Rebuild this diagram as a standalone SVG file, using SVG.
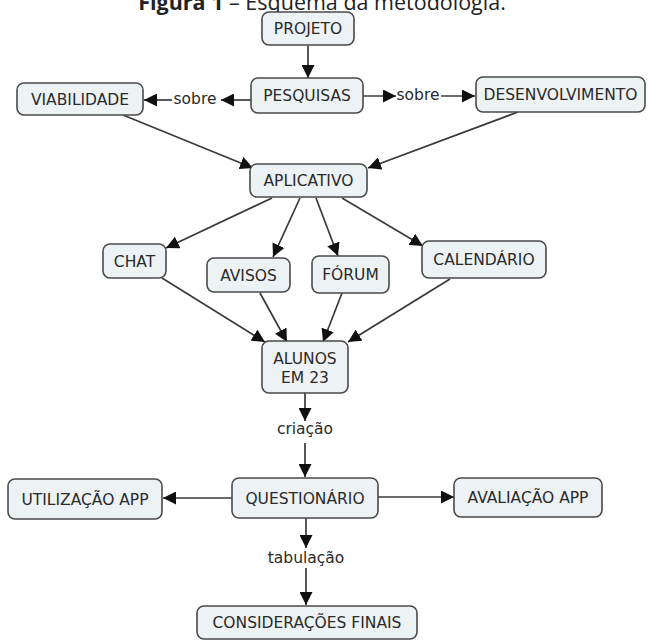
<svg xmlns="http://www.w3.org/2000/svg" width="648" height="641" viewBox="0 0 648 641">
<style>
.n rect{fill:#edf2f5;stroke:#4a4a4a;stroke-width:1.6}
.n text,.lbl{font-family:"DejaVu Sans",Verdana,sans-serif;font-size:15.5px;fill:#2a2a2a;text-anchor:middle}
.c line{stroke:#3a3a3a;stroke-width:1.7;fill:none;marker-end:url(#ah)}
.title{font-family:"Open Sans","Liberation Sans",sans-serif;font-size:21.5px;fill:#222;text-anchor:middle}
</style>
<defs>
<marker id="ah" markerUnits="userSpaceOnUse" markerWidth="14" markerHeight="13" refX="13" refY="6.5" orient="auto">
<path d="M0,0 L13,6.5 L0,13 z" fill="#111"/>
</marker>
</defs>
<rect width="648" height="641" fill="#fff"/>
<text class="title" x="322" y="10"><tspan font-weight="bold">Figura 1</tspan> – Esquema da metodologia.</text>

<g id="connectors" class="c">
<line x1="308" y1="46" x2="308" y2="78"/>
<line x1="251" y1="100" x2="221" y2="100"/>
<line x1="172" y1="100" x2="144" y2="100"/>
<line x1="363" y1="96" x2="396" y2="96"/>
<line x1="441" y1="96" x2="475" y2="96"/>
<line x1="123" y1="115" x2="253" y2="168"/>
<line x1="518" y1="112" x2="368" y2="168"/>
<line x1="272" y1="198" x2="166" y2="248"/>
<line x1="300" y1="198" x2="273" y2="257"/>
<line x1="316" y1="198" x2="338" y2="256"/>
<line x1="342" y1="198" x2="423" y2="246"/>
<line x1="162" y1="278" x2="265" y2="342"/>
<line x1="260" y1="293" x2="287" y2="342"/>
<line x1="342" y1="293" x2="323" y2="342"/>
<line x1="450" y1="279" x2="348" y2="342"/>
<line x1="305" y1="393" x2="305" y2="421"/>
<line x1="305" y1="443" x2="305" y2="477"/>
<line x1="232" y1="498" x2="163" y2="498"/>
<line x1="378" y1="497" x2="454" y2="497"/>
<line x1="306" y1="518" x2="306" y2="548"/>
<line x1="306" y1="568" x2="306" y2="605"/>
</g>
<text class="lbl" x="195" y="104">sobre</text>
<text class="lbl" x="418" y="100">sobre</text>
<text class="lbl" x="305" y="434">criação</text>
<text class="lbl" x="306" y="563">tabulação</text>

<g id="projeto" class="n"><rect x="262" y="12" width="92" height="33" rx="7"/><text x="308" y="34">PROJETO</text></g>
<g id="pesquisas" class="n"><rect x="251" y="78" width="112" height="35" rx="7"/><text x="307" y="101">PESQUISAS</text></g>
<g id="viabilidade" class="n"><rect x="17" y="83" width="126" height="32" rx="7"/><text x="80" y="104.5">VIABILIDADE</text></g>
<g id="desenvolvimento" class="n"><rect x="476" y="77" width="169" height="35" rx="7"/><text x="560.5" y="100">DESENVOLVIMENTO</text></g>
<g id="aplicativo" class="n"><rect x="250" y="164" width="117" height="33" rx="7"/><text x="308.5" y="186">APLICATIVO</text></g>
<g id="chat" class="n"><rect x="103" y="244" width="63" height="34" rx="7"/><text x="134.5" y="266.5">CHAT</text></g>
<g id="avisos" class="n"><rect x="207" y="258" width="83" height="34" rx="7"/><text x="248.5" y="280.5">AVISOS</text></g>
<g id="forum" class="n"><rect x="312" y="256" width="77" height="37" rx="7"/><text x="350.5" y="280">FÓRUM</text></g>
<g id="calendario" class="n"><rect x="422" y="241" width="124" height="37" rx="7"/><text x="484" y="265">CALENDÁRIO</text></g>
<g id="alunos" class="n"><rect x="262" y="341" width="86" height="52" rx="7"/><text x="305" y="364">ALUNOS</text><text x="305" y="383">EM 23</text></g>
<g id="utilizacao" class="n"><rect x="8" y="479" width="154" height="40" rx="7"/><text x="85" y="504.5">UTILIZAÇÃO APP</text></g>
<g id="questionario" class="n"><rect x="232" y="478" width="146" height="40" rx="7"/><text x="305" y="503.5">QUESTIONÁRIO</text></g>
<g id="avaliacao" class="n"><rect x="454" y="478" width="148" height="39" rx="7"/><text x="528" y="503">AVALIAÇÃO APP</text></g>
<g id="consideracoes" class="n"><rect x="197" y="606" width="220" height="33" rx="7"/><text x="307" y="628">CONSIDERAÇÕES FINAIS</text></g>
</svg>
